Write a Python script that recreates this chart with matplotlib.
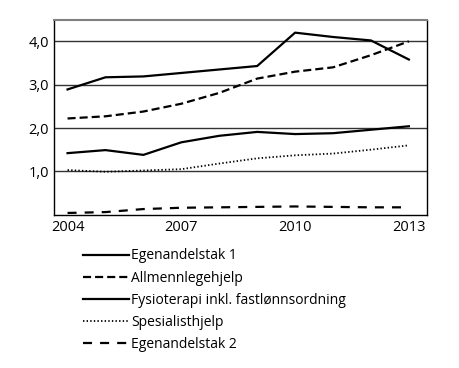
import matplotlib
matplotlib.use("Agg")
import matplotlib.pyplot as plt
from matplotlib.lines import Line2D

plt.rcParams['font.family'] = ['Open Sans', 'DejaVu Sans']
plt.rcParams['lines.scale_dashes'] = False

years = [2004, 2005, 2006, 2007, 2008, 2009, 2010, 2011, 2012, 2013]
egenandelstak1 = [2.89, 3.17, 3.19, 3.27, 3.35, 3.43, 4.20, 4.10, 4.02, 3.58]
allmennlegehjelp = [2.22, 2.27, 2.38, 2.56, 2.81, 3.14, 3.30, 3.40, 3.68, 4.00]
fysioterapi = [1.42, 1.49, 1.38, 1.67, 1.82, 1.91, 1.86, 1.88, 1.96, 2.04]
spesialisthjelp = [1.03, 0.99, 1.02, 1.05, 1.18, 1.30, 1.37, 1.41, 1.50, 1.60]
egenandelstak2 = [0.04, 0.06, 0.13, 0.16, 0.17, 0.18, 0.19, 0.18, 0.17, 0.17]

labels = ["Egenandelstak 1", "Allmennlegehjelp",
          "Fysioterapi inkl. fastlønnsordning", "Spesialisthjelp",
          "Egenandelstak 2"]
yticks = [1.0, 2.0, 3.0, 4.0]
ytick_labels = ["1,0", "2,0", "3,0", "4,0"]
xticks = [2004, 2007, 2010, 2013]

styles = [
    dict(ls='-', lw=1.6),
    dict(ls=(0, (5.8, 2.9)), lw=1.6),
    dict(ls='-', lw=1.6),
    dict(ls=(0, (1.0, 1.6)), lw=1.3),
    dict(ls=(0, (6.5, 5.8)), lw=1.6),
]
series = [egenandelstak1, allmennlegehjelp, fysioterapi, spesialisthjelp, egenandelstak2]

fig = plt.figure(figsize=(4.6, 3.68), dpi=100)
ax = fig.add_axes([0.118, 0.4166, 0.8096, 0.53])

for yt in yticks:
    ax.axhline(yt, color='#333333', lw=1.0, zorder=1)

handles = []
for data, st, lab in zip(series, styles, labels):
    ax.plot(years, data, color='black', zorder=3, **st)
    handles.append(Line2D([], [], color='black', **st))

ax.set_xlim(2003.65, 2013.47)
ax.set_ylim(0, 4.5)
ax.set_yticks(yticks)
ax.set_yticklabels(ytick_labels)
ax.set_xticks(xticks)
ax.tick_params(length=0, labelsize=10.5, pad=4)
for s in ['left', 'right', 'bottom']:
    ax.spines[s].set_color('black')
    ax.spines[s].set_linewidth(1.0)
ax.spines['top'].set_color('#808080')
ax.spines['top'].set_linewidth(1.5)

fig.legend(handles, labels, loc='upper left', bbox_to_anchor=(0.18, 0.325),
           frameon=False, fontsize=10, handlelength=3.3, handletextpad=0.2,
           labelspacing=0.52, borderpad=0, borderaxespad=0)

fig.savefig("out.png", dpi=100)
